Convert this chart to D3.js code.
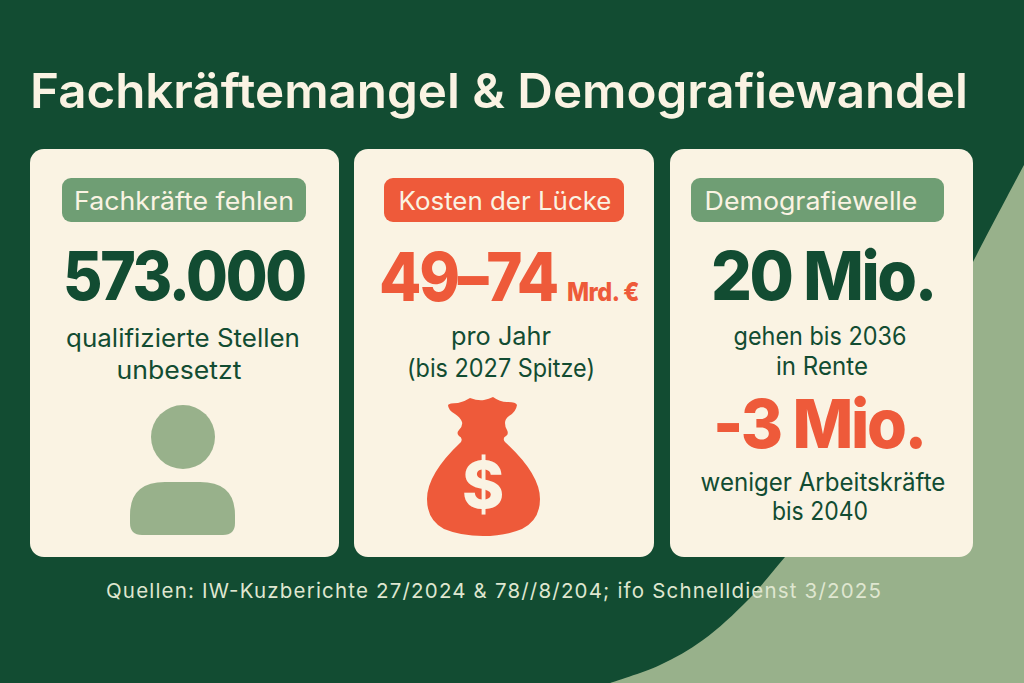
<!DOCTYPE html>
<html><head><meta charset="utf-8">
<script src="https://cdn.jsdelivr.net/npm/d3@7"></script>
<style>html,body{margin:0;padding:0;background:#124c32}svg{display:block}text{font-family:Inter,"Noto Sans",sans-serif}</style>
</head><body><script>
const W=1024,H=683;
const DARK="#124c32",CREAM="#faf3e3",PILL="#6f9e74",LIGHT="#98b18b",RED="#ee5a3a";
const title="Fachkräftemangel & Demografiewandel";
const source="Quellen: IW-Kuzberichte 27/2024 & 78//8/204; ifo Schnelldienst 3/2025";
const cards=[{x:30,w:309},{x:354,w:300},{x:670,w:303}];
const pills=[
 {x:62,w:244,t:"Fachkräfte fehlen",c:PILL,tx:184,tw:220},
 {x:384,w:240,t:"Kosten der Lücke",c:RED,tx:505,tw:213},
 {x:691,w:253,t:"Demografiewelle",c:PILL,tx:811,tw:213}
];
const big=[
 {t:"573.000",x:184,y:300,s:68,w:242,c:DARK},
 {t:"49–74",x:468,y:301,s:68,w:178,c:RED},
 {t:"Mrd. €",x:603,y:301,s:26,w:72,c:RED},
 {t:"20 Mio.",x:823,y:300,s:68,w:224,c:DARK},
 {t:"-3 Mio.",x:819,y:448,s:68,w:212,c:RED}
];
const body=[
 {t:"qualifizierte Stellen",x:183,y:347,w:234},
 {t:"unbesetzt",x:179,y:379,w:125},
 {t:"pro Jahr",x:501,y:345,w:100},
 {t:"(bis 2027 Spitze)",x:501,y:377,w:188},
 {t:"gehen bis 2036",x:820,y:345,w:173},
 {t:"in Rente",x:822,y:375,w:92},
 {t:"weniger Arbeitskräfte",x:823,y:491,w:245},
 {t:"bis 2040",x:820,y:520,w:96}
];
const svg=d3.select("body").append("svg").attr("width",W).attr("height",H);
svg.append("rect").attr("width",W).attr("height",H).attr("fill",DARK);
const wave=[[1024,165],[973,262],[900,410],[840,495],[785,557],[748,600],[703,640],[660,665],[610,683]];
const waveLine=d3.line().curve(d3.curveCatmullRom);
svg.append("path").attr("d",waveLine(wave)+`L${W},${H}L${W},165Z`).attr("fill",LIGHT);
// Horizontal fit: condenses glyphs to the measured width without stretching the text box
function fit(sel){
 sel.attr("transform",function(d){
  const n=this.getComputedTextLength();
  return `translate(${d.x},${d.y}) scale(${d.w/n},1)`;
 });
}
const titleD=[{t:title,x:499,y:108,w:938}];
svg.selectAll("text.title").data(titleD).join("text").attr("class","title").text(d=>d.t)
 .attr("text-anchor","middle").attr("font-size",48).attr("font-weight",600).attr("fill",CREAM).call(fit);
svg.selectAll("rect.card").data(cards).join("rect").attr("class","card")
 .attr("x",d=>d.x).attr("y",149).attr("width",d=>d.w).attr("height",408).attr("rx",14).attr("fill",CREAM);
svg.selectAll("rect.pill").data(pills).join("rect").attr("class","pill")
 .attr("x",d=>d.x).attr("y",178).attr("width",d=>d.w).attr("height",44).attr("rx",9).attr("fill",d=>d.c);
svg.selectAll("text.pl").data(pills.map(p=>({t:p.t,x:p.tx,y:210,w:p.tw}))).join("text").attr("class","pl").text(d=>d.t)
 .attr("text-anchor","middle").attr("font-size",25).attr("font-weight",400).attr("fill",CREAM).call(fit);
svg.selectAll("text.big").data(big).join("text").attr("class","big").text(d=>d.t)
 .attr("text-anchor","middle").attr("font-size",d=>d.s).attr("font-weight",800)
 .attr("letter-spacing",d=>d.s>40?-2.5:-0.5).attr("fill",d=>d.c).call(fit);
svg.selectAll("text.body").data(body).join("text").attr("class","body").text(d=>d.t)
 .attr("text-anchor","middle").attr("font-size",25).attr("font-weight",400).attr("fill",DARK).call(fit);
svg.append("text").text(source).attr("x",106).attr("y",598).attr("font-size",20.5).attr("fill","#dfe6d0")
 .attr("textLength",775).attr("lengthAdjust","spacing");
// person icon
const icon=svg.append("g").attr("fill",LIGHT);
icon.append("circle").attr("cx",183).attr("cy",437).attr("r",32);
icon.append("path").attr("d","M142,535 Q130,535 130,523 V515 Q130,482 165,482 H200 Q235,482 235,515 V523 Q235,535 223,535 Z");
// money bag
const bag=svg.append("g").attr("fill",RED);
bag.append("path").attr("d","M448,405 Q449,403 458,403 Q464,402 470,398 Q478,401 484,400 Q489,399 493,397 Q500,402 507,402 Q516,402 517,405 Q516,412 509,416 Q505,419 505,423 Q505,427 507,430 Q509,434 506,436 Q502,438 505,442 Q540,474 540,499 Q540,520 522,529 Q505,536 483,536 Q461,536 444,529 Q427,520 427,499 Q427,474 461,442 Q463,438 459,436 Q456,433 459,430 Q463,426 462,422 Q460,417 455,414 Q448,410 448,405Z");
bag.append("text").text("$").attr("x",483).attr("y",508).attr("text-anchor","middle").attr("font-size",64).attr("font-weight",800).attr("fill",CREAM);
</script></body></html>
